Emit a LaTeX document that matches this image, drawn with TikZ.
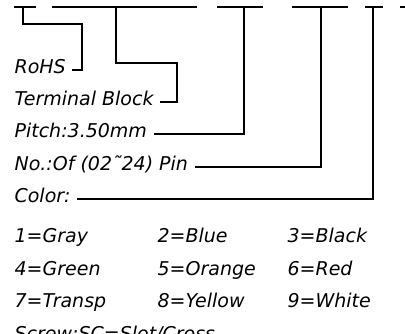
\documentclass[tikz,border=0pt]{standalone}
\usepackage{fontspec}
\setmainfont{DejaVu Sans}
\usetikzlibrary{positioning}
\tikzset{lbl/.style = {anchor=base west, inner sep=0pt,
                       text height=6pt, text depth=0pt}}
\tikzset{lead/.style = {shorten >=6pt}}
\tikzset{bar/.style = {line cap=butt}}

\begin{document}
\begin{tikzpicture}[x=1pt, y=-1pt, line width=1.2pt,
    font=\itshape\fontsize{19}{21}\selectfont]
  \useasboundingbox (0,0) rectangle (405,333);
  \clip (0,0) rectangle (405,333);
  \draw[bar] (14,7) -- (36,7);
  \draw[bar] (52,7) -- (197,7);
  \draw[bar] (217,7) -- (263,7);
  \draw[bar] (292,7) -- (348,7);
  \draw[bar] (365,7) -- (383,7);
  \draw[bar] (400,7) -- (410,7);
  \coordinate (s1) at (23,7);
  \coordinate (s2) at (116,7);
  \coordinate (s3) at (244,7);
  \coordinate (s4) at (321,7);
  \coordinate (s5) at (373,7);
  \coordinate (b1) at (82,24);
  \coordinate (b2) at (177,63);
  \node[lbl] (rohs) at (14,73) {RoHS};
  \node[lbl] (term) at (14,105) {Terminal Block};
  \node[lbl] (pitch) at (14,137) {Pitch:3.50mm};
  \node[lbl] (pins) at (14,170) {No.:Of (02˜24) Pin};
  \node[lbl] (color) at (14,202) {Color:};
  \node[lbl] (c1) at (14,242) {1=Gray};
  \node[lbl] (c2) at (157,242) {2=Blue};
  \node[lbl] (c3) at (287,242) {3=Black};
  \node[lbl] (c4) at (14,275) {4=Green};
  \node[lbl] (c5) at (157,275) {5=Orange};
  \node[lbl] (c6) at (287,275) {6=Red};
  \node[lbl] (c7) at (14,307) {7=Transp};
  \node[lbl] (c8) at (157,307) {8=Yellow};
  \node[lbl] (c9) at (287,307) {9=White};
  \node[lbl] (screw) at (14,340) {Screw:SC=Slot/Cross};
  \draw[lead] (s1) |- (b1) |- (rohs.east);
  \draw[lead] (s2) |- (b2) |- (term.east);
  \draw[lead] (s3) |- (pitch.east);
  \draw[lead] (s4) |- (pins.east);
  \draw[lead] (s5) |- (color.east);
\end{tikzpicture}
\end{document}
